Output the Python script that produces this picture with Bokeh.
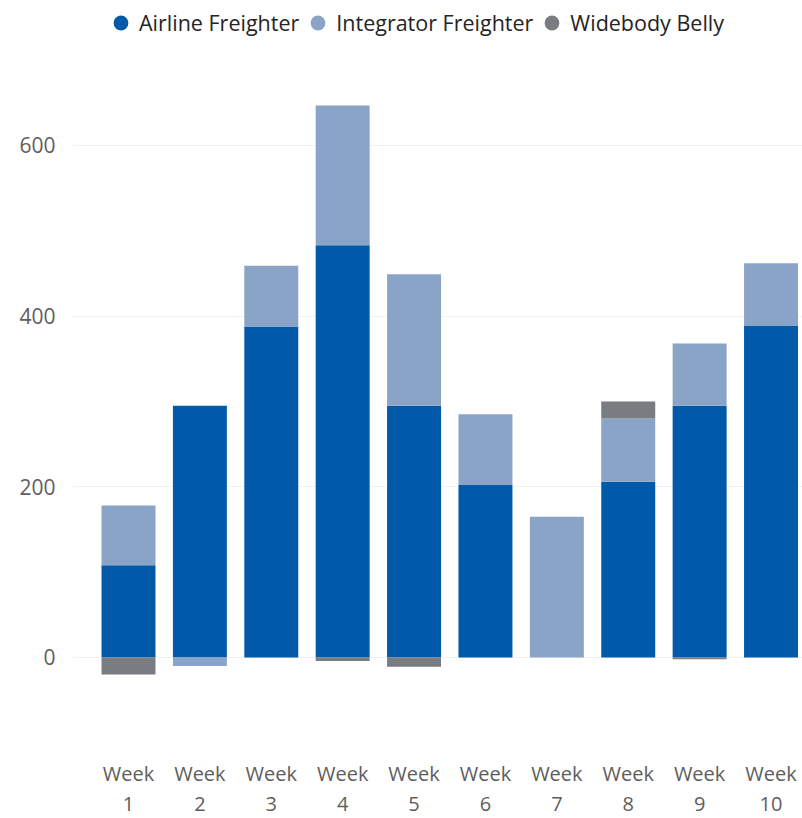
import numpy as np
from bokeh.plotting import figure
from bokeh.models import (Range1d, FixedTicker, LinearAxis, Legend, LegendItem,
                          ColumnDataSource)
from bokeh.embed import file_html
from bokeh.resources import INLINE

categories = ["Week 1", "Week 2", "Week 3", "Week 4", "Week 5",
              "Week 6", "Week 7", "Week 8", "Week 9", "Week 10"]
airline = [108, 295, 388, 483, 295, 202, 0, 206, 295, 389]
integrator = [70, -10, 71, 164, 154, 83, 165, 74, 73, 73]
belly = [-20, 0, 0, -4, -11, 0, 0, 20, -2, 0]
series_names = ["Airline Freighter", "Integrator Freighter", "Widebody Belly"]
series_colors = ["#005AA9", "#8AA4C8", "#797C81"]
y_ticks = [0, 200, 400, 600]

FONT = "Open Sans"
LABEL_COLOR = "#605E5C"

p = figure(width=802, height=818, output_backend="svg", toolbar_location=None,
           x_range=Range1d(0.2156, 10.441), y_range=Range1d(-100.8, 769.9),
           min_border_left=72, min_border_right=0, min_border_top=0,
           min_border_bottom=75)
p.outline_line_color = None
p.background_fill_color = "white"
p.border_fill_color = "white"

x = np.arange(1, len(categories) + 1)
pos_cum = np.zeros(len(categories))
neg_cum = np.zeros(len(categories))
for vals, color in zip([airline, integrator, belly], series_colors):
    v = np.array(vals, dtype=float)
    bottom = np.where(v >= 0, pos_cum, neg_cum + v)
    top = np.where(v >= 0, pos_cum + v, neg_cum)
    pos_cum = np.where(v >= 0, pos_cum + v, pos_cum)
    neg_cum = np.where(v < 0, neg_cum + v, neg_cum)
    src = ColumnDataSource(dict(x=x, bottom=bottom, top=top))
    p.vbar(x="x", bottom="bottom", top="top", width=0.756, source=src,
           fill_color=color, line_color=None)

# legend (circle markers via placeholder renderers with no visible points)
items = []
for name, color in zip(series_names, series_colors):
    r = p.scatter(x=[np.nan], y=[np.nan], marker="circle", size=15,
                  fill_color=color, line_color=None)
    items.append(LegendItem(label=name, renderers=[r]))
legend = Legend(items=items, orientation="horizontal", location=(30, 702),
                background_fill_alpha=0, border_line_color=None,
                label_text_font=FONT, label_text_font_size="21.5px",
                label_text_color="#252423", glyph_width=37, glyph_height=37,
                label_standoff=0, spacing=0, padding=0, margin=0)
p.add_layout(legend, "center")

# grid
p.xgrid.visible = False
p.ygrid.ticker = FixedTicker(ticks=y_ticks)
p.ygrid.grid_line_color = "#F2F2F2"
p.ygrid.grid_line_width = 1

# y axis
p.yaxis.ticker = FixedTicker(ticks=y_ticks)
p.yaxis.axis_line_color = None
p.yaxis.major_tick_line_color = None
p.yaxis.minor_tick_line_color = None
p.yaxis.major_label_standoff = 11
p.yaxis.major_label_text_font = FONT
p.yaxis.major_label_text_font_size = "21px"
p.yaxis.major_label_text_color = LABEL_COLOR

# x axis: two rows of labels
first = {int(i): c.split(" ")[0] for i, c in zip(x, categories)}
second = {int(i): c.split(" ")[1] for i, c in zip(x, categories)}
xa = p.xaxis[0]
xa.ticker = FixedTicker(ticks=list(x))
xa.major_label_overrides = first
xa.axis_line_color = None
xa.major_tick_line_color = None
xa.minor_tick_line_color = None
xa.major_label_standoff = 10
xa.major_label_text_font = FONT
xa.major_label_text_font_size = "20px"
xa.major_label_text_color = LABEL_COLOR

xb = LinearAxis(ticker=FixedTicker(ticks=list(x)), major_label_overrides=second)
xb.axis_line_color = None
xb.major_tick_line_color = None
xb.minor_tick_line_color = None
xb.major_label_standoff = 1
xb.major_label_text_font = FONT
xb.major_label_text_font_size = "20px"
xb.major_label_text_color = LABEL_COLOR
p.add_layout(xb, "below")

open("out.html", "w").write(file_html(p, INLINE))
